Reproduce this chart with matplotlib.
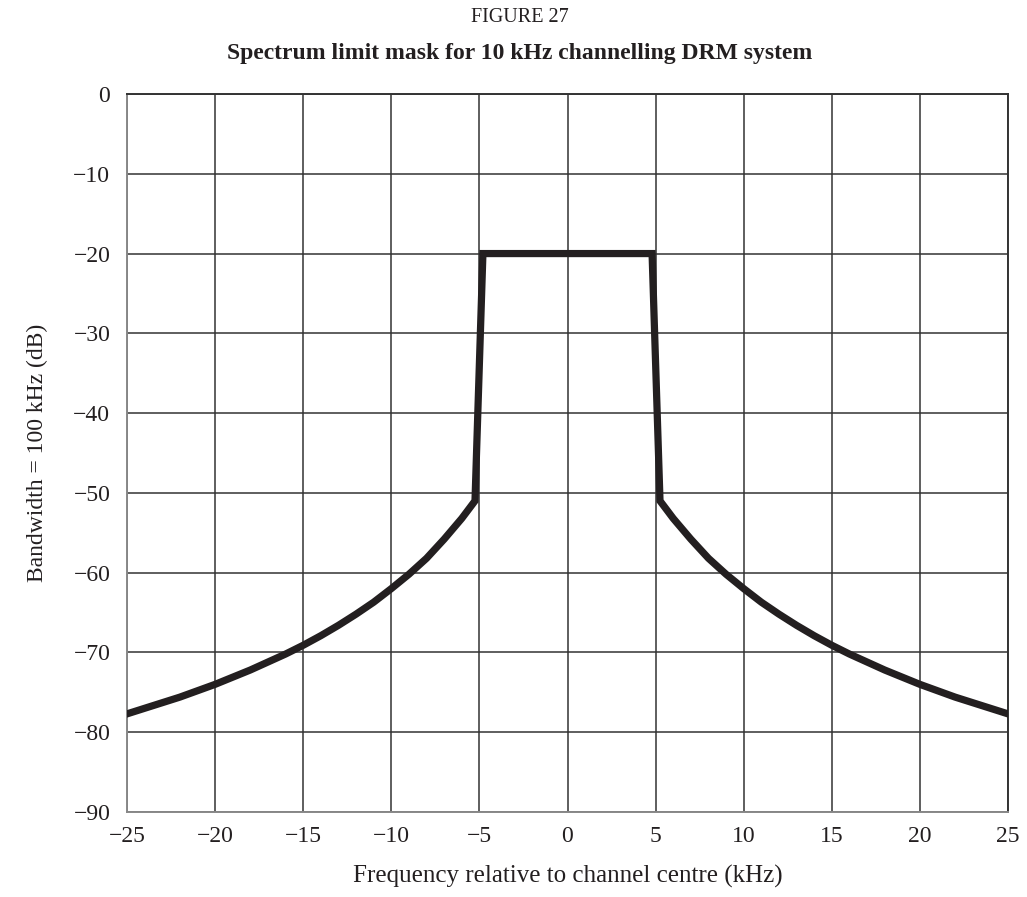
import matplotlib
matplotlib.use("Agg")
import matplotlib.pyplot as plt
from matplotlib.ticker import FuncFormatter

plt.rcParams['font.family'] = ['Liberation Serif', 'DejaVu Serif']

# Mask values (kHz, dB)
freq_right = [4.8, 5.25, 6, 7, 8, 9, 10, 11, 12, 13, 14, 15, 16, 17, 18, 19, 20, 21, 22, 23, 24, 25]
level_right = [-20, -51, -53.2, -55.8, -58.2, -60.2, -62.0, -63.7, -65.2, -66.6, -67.9,
               -69.1, -70.2, -71.2, -72.2, -73.1, -74.0, -74.8, -75.6, -76.3, -77.0, -77.7]

freq = [-f for f in freq_right[::-1]] + freq_right
level = level_right[::-1] + level_right

x_ticks = [-25, -20, -15, -10, -5, 0, 5, 10, 15, 20, 25]
y_ticks = [0, -10, -20, -30, -40, -50, -60, -70, -80, -90]

fig = plt.figure(figsize=(10.27, 8.97), dpi=100)
ax = fig.add_axes([127/1027, 1-812/897, (1008-127)/1027, (812-94)/897])

ax.plot(freq, level, color='#231f20', lw=5.2, solid_joinstyle='miter', zorder=3)

ax.set_xlim(-25, 25)
ax.set_ylim(-90, 0)
ax.set_xticks(x_ticks)
ax.set_yticks(y_ticks)
fmt = FuncFormatter(lambda v, p: ('\u2212%d' % abs(v)) if v < 0 else '%d' % v)
ax.xaxis.set_major_formatter(fmt)
ax.yaxis.set_major_formatter(fmt)
ax.grid(True, color='#333333', lw=1.1)
ax.set_axisbelow(True)
ax.tick_params(length=0, labelsize=17, colors='#231f20')
ax.tick_params(axis='x', pad=10)
ax.tick_params(axis='y', pad=12)
for s in ['left', 'bottom']:
    ax.spines[s].set_color('#888888')
    ax.spines[s].set_linewidth(1.4)
for s in ['top', 'right']:
    ax.spines[s].set_color('#333333')
    ax.spines[s].set_linewidth(1.4)

ax.set_xlabel('Frequency relative to channel centre (kHz)', fontsize=18, labelpad=13, color='#231f20')
ax.set_ylabel('Bandwidth = 100 kHz (dB)', fontsize=17, labelpad=18, color='#231f20')

fig.text(520/1027, 1-18/897, 'FIGURE 27', ha='center', va='center', fontsize=14.5, color='#231f20')
fig.text(520/1027, 1-53/897, 'Spectrum limit mask for 10 kHz channelling DRM system', ha='center', va='center',
         fontsize=17, fontweight='bold', color='#231f20')

fig.savefig('out.png', dpi=100, facecolor='white')
